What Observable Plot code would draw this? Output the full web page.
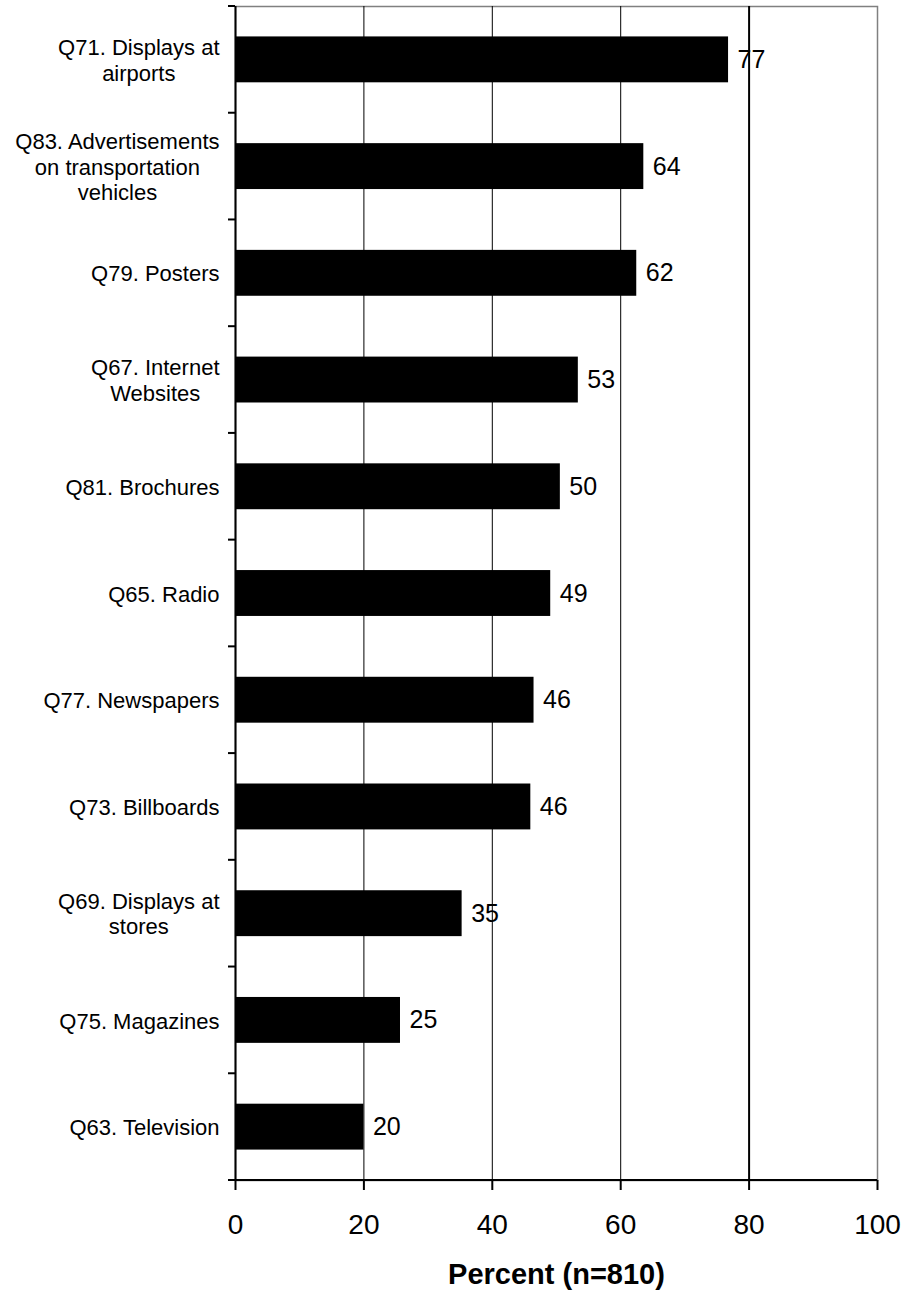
<!DOCTYPE html>
<html>
<head>
<meta charset="utf-8">
<script src="https://cdn.jsdelivr.net/npm/d3@7"></script>
<script src="https://cdn.jsdelivr.net/npm/@observablehq/plot@0.6"></script>
<style>
  html, body { margin: 0; padding: 0; background: #fff; }
  #chart svg { display: block; }
</style>
</head>
<body>
<div id="chart"></div>
<script>
// Categories, top to bottom
const categories = [
  "Q71. Displays at\nairports",
  "Q83. Advertisements\non transportation\nvehicles",
  "Q79. Posters",
  "Q67. Internet\nWebsites",
  "Q81. Brochures",
  "Q65. Radio",
  "Q77. Newspapers",
  "Q73. Billboards",
  "Q69. Displays at\nstores",
  "Q75. Magazines",
  "Q63. Television"
];
// Bar lengths (percent)
const values = [76.8, 63.6, 62.5, 53.4, 50.6, 49.1, 46.5, 46.0, 35.3, 25.7, 20.0];
// Printed value labels
const valueLabels = ["77", "64", "62", "53", "50", "49", "46", "46", "35", "25", "20"];
// X tick values
const xTicks = [0, 20, 40, 60, 80, 100];
const xLabel = "Percent (n=810)";

const data = categories.map((c, i) => ({category: c, value: values[i], label: valueLabels[i]}));

// Axis lines and category boundary ticks, derived from the scales
function axisLines(index, scales, values, dimensions) {
  const {x, y} = scales;
  const g = d3.create("svg:g").attr("stroke", "#000").attr("stroke-width", 2);
  const bw = y.bandwidth();
  const step = y.step();
  const off = (step - bw) / 2;
  const bounds = categories.map(c => y(c) - off);
  bounds.push(y(categories[categories.length - 1]) + bw + off);
  const x0 = x(0);
  for (const b of bounds) {
    g.append("line").attr("x1", x0 - 7).attr("x2", x0).attr("y1", b).attr("y2", b);
  }
  const yb = dimensions.height - dimensions.marginBottom;
  g.append("line").attr("x1", x0 - 7).attr("x2", x(100)).attr("y1", yb).attr("y2", yb);
  return g.node();
}

const chart = Plot.plot({
  width: 906,
  height: 1293,
  marginLeft: 235,
  marginRight: 29,
  marginTop: 6,
  marginBottom: 113,
  style: {fontFamily: "'Liberation Sans', Arial, sans-serif", background: "#fff", color: "#000"},
  x: {domain: [0, 100], axis: null},
  y: {domain: categories, paddingInner: 0.57, paddingOuter: 0.285, round: false, axis: null},
  marks: [
    Plot.frame({stroke: "#808080", strokeWidth: 1.5}),
    Plot.ruleX([20, 40, 60], {stroke: "#000", strokeWidth: 1}),
    Plot.ruleX([80], {stroke: "#000", strokeWidth: 2}),
    Plot.barX(data, {x: "value", y: "category", fill: "#000"}),
    Plot.ruleX([0], {stroke: "#000", strokeWidth: 2}),
    axisLines,
    Plot.axisX({ticks: xTicks, tickSize: 10, tickPadding: 24, fontSize: 28, strokeWidth: 2, label: null}),
    Plot.text(data, {
      x: "value", y: "category", text: "label",
      dx: 9, textAnchor: "start", fontSize: 25, fill: "#000"
    }),
    Plot.text(categories, {
      y: d => d, text: d => d, frameAnchor: "left", dx: -16,
      textAnchor: "end", fontSize: 22, lineHeight: 1.15, fill: "#000"
    }),
    Plot.text([xLabel], {
      text: d => d, frameAnchor: "bottom", dy: 103,
      fontSize: 29, fontWeight: "bold", fill: "#000"
    })
  ]
});

document.getElementById("chart").append(chart);

// Center multi-line category labels on their widest line, keeping right edges aligned
chart.querySelectorAll("text").forEach(t => {
  const spans = Array.from(t.querySelectorAll("tspan"));
  if (spans.length < 2) return;
  const w = d3.max(spans, s => s.getComputedTextLength());
  t.setAttribute("text-anchor", "middle");
  spans.forEach(s => s.setAttribute("x", -w / 2));
});
</script>
</body>
</html>
